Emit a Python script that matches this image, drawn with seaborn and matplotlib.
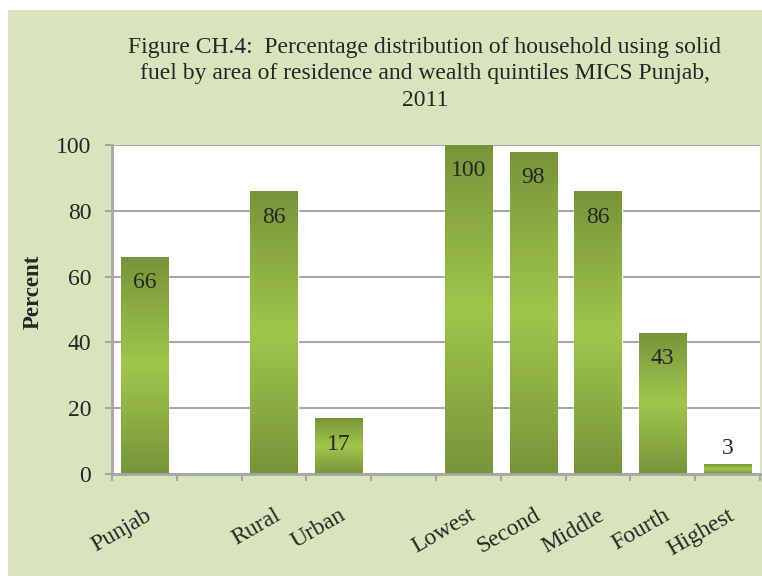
#!/usr/bin/env python
# coding: utf-8

# Solid fuel use by area of residence and wealth quintile, MICS Punjab 2011

import numpy as np
import pandas as pd
import matplotlib
matplotlib.use('Agg')
import matplotlib.pyplot as plt
import seaborn as sb
from matplotlib.colors import LinearSegmentedColormap
from matplotlib.patches import Rectangle

categories = ['Punjab', ' ', 'Rural', 'Urban', '  ', 'Lowest', 'Second', 'Middle', 'Fourth', 'Highest']
values = [66, np.nan, 86, 17, np.nan, 100, 98, 86, 43, 3]
tick_labels = ['Punjab', '', 'Rural', 'Urban', '', 'Lowest', 'Second', 'Middle', 'Fourth', 'Highest']
title = ('Figure CH.4:  Percentage distribution of household using solid\n'
         'fuel by area of residence and wealth quintiles MICS Punjab,\n2011')

df = pd.DataFrame({'cat': categories, 'val': values})

sb.set_style('white')
plt.rcParams['font.family'] = ['Liberation Serif', 'DejaVu Serif']

green_bg = '#d8e4bc'
grey = '#a6a6a6'

fig = plt.figure(figsize=(7.62, 5.76), dpi=100)
fig.patch.set_facecolor('white')
fig.patches.append(Rectangle((8 / 762, 0), 1, 1 - 10 / 576, transform=fig.transFigure,
                             facecolor=green_bg, edgecolor='none', zorder=-10))

ax = fig.add_axes([112 / 762, 1 - 474 / 576, (760 - 112) / 762, (474 - 145) / 576])
ax.set_facecolor('white')

sb.barplot(data=df, x='cat', y='val', order=categories, width=0.73,
           color='#8aad45', ax=ax, zorder=2)

# vertical gradient on every bar: dark at top and bottom, light in the middle
grad_cmap = LinearSegmentedColormap.from_list(
    'bar', [(0, '#76953a'), (0.5, '#a0c64b'), (1, '#76953a')])
grad = np.linspace(0, 1, 256).reshape(-1, 1)
for p in list(ax.patches):
    h = p.get_height()
    if not np.isfinite(h) or h <= 0:
        continue
    x0 = p.get_x()
    w = p.get_width()
    im = ax.imshow(grad, extent=[x0, x0 + w, 0, h], aspect='auto', cmap=grad_cmap,
                   origin='lower', zorder=2.5, interpolation='bicubic')
    im.set_clip_path(p)
    p.set_facecolor('none')

# value labels
for i, v in enumerate(values):
    if np.isnan(v):
        continue
    if v > 10:
        ax.text(i, v - 7.9, f'{v:.0f}', ha='center', va='center', fontsize=17, zorder=4)
    else:
        ax.text(i, v + 4.6, f'{v:.0f}', ha='center', va='center', fontsize=17, zorder=4)

ax.set_xlim(-0.5, len(categories) - 0.5)
ax.set_ylim(0, 100)
ax.set_yticks([0, 20, 40, 60, 80, 100])
ax.yaxis.grid(True, color=grey, lw=1.5, zorder=0)
ax.set_axisbelow(True)

# ticks at category boundaries, labels at category centres
ax.set_xticks(np.arange(-0.5, len(categories), 1.0))
ax.set_xticklabels([])
ax.set_xticks(np.arange(len(categories)), minor=True)
ax.set_xticklabels(tick_labels, minor=True, rotation=30, ha='right', va='top',
                   rotation_mode='anchor', fontsize=17)
ax.tick_params(axis='x', which='major', direction='out', length=5, width=1.5, color=grey, bottom=True)
ax.tick_params(axis='x', which='minor', length=0, pad=22)
ax.tick_params(axis='y', direction='out', length=5, width=1.5, color=grey, left=True,
               labelsize=17, pad=10)

for s in ['top', 'right']:
    ax.spines[s].set_visible(False)
for s in ['left', 'bottom']:
    ax.spines[s].set_color(grey)
    ax.spines[s].set_linewidth(2)

ax.set_xlabel('')
ax.set_ylabel('')
fig.text(33 / 762, 1 - 292 / 576, 'Percent', rotation=90, ha='center', va='center',
         fontsize=16.5, fontweight='bold')
fig.text(425 / 762, 1 - 74 / 576, title, ha='center', va='center', fontsize=17,
         linespacing=1.33)

plt.savefig('out.png', dpi=100, facecolor=fig.get_facecolor())
